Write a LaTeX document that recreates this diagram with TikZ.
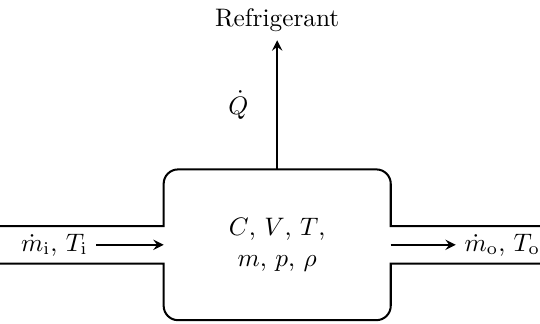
\documentclass[tikz,border=0pt]{standalone}
\usepackage{amsmath}
\begin{document}
\begin{tikzpicture}[x=1cm,y=1cm,>=stealth,
  wall/.style={thick},
  flow/.style={->,thick}]
\useasboundingbox (0,0) rectangle (7.5,4.5);

\node[minimum width=3.14cm,minimum height=2.08cm,align=center] (vol) at (3.85,1.10) {$C$, $V$, $T$,\\ $m$, $p$, $\rho$};

\coordinate (inTop) at (0,1.36);
\coordinate (inBot) at (0,0.84);
\coordinate (outTop) at (7.5,1.36);
\coordinate (outBot) at (7.5,0.84);

\draw[wall] (inTop) -- (inTop -| vol.west) [rounded corners=0.2cm] -- (vol.north west) -- (vol.north east) [sharp corners] -- (outTop -| vol.east) -- (outTop);
\draw[wall] (inBot) -- (inBot -| vol.west) [rounded corners=0.2cm] -- (vol.south west) -- (vol.south east) [sharp corners] -- (outBot -| vol.east) -- (outBot);

\node[anchor=east] (inlet) at (1.34,1.10) {$\dot{m}_\mathrm{i}$, $T_\mathrm{i}$};
\node[anchor=west] (outlet) at (6.33,1.10) {$\dot{m}_\mathrm{o}$, $T_\mathrm{o}$};
\node[anchor=south] (cool) at (3.85,3.94) {Refrigerant};

\draw[flow] (inlet) -- (vol);
\draw[flow] (vol) -- (outlet);
\draw[flow] (vol) -- node[left=0.27cm] {$\dot{Q}$} (cool);
\end{tikzpicture}
\end{document}
